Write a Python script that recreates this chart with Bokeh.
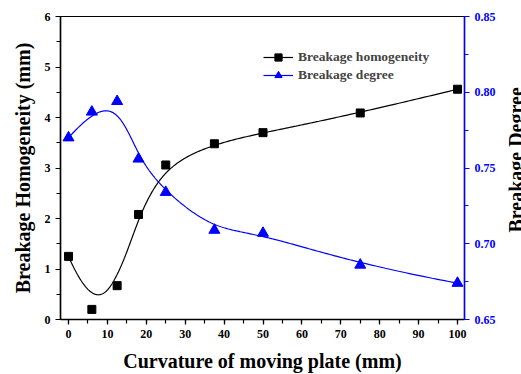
import numpy as np
from bokeh.plotting import figure
from bokeh.layouts import row
from bokeh.models import (LinearAxis, Range1d, Legend, LegendItem, FixedTicker,
                          NumeralTickFormatter, Label)
from bokeh.embed import file_html
from bokeh.resources import INLINE

curvature = [0, 6, 12.5, 18, 25, 37.5, 50, 75, 100]
homogeneity = [1.25, 0.20, 0.67, 2.08, 3.06, 3.48, 3.70, 4.09, 4.56]
degree = [0.770, 0.787, 0.794, 0.756, 0.734, 0.709, 0.707, 0.686, 0.674]

FONT = "Liberation Serif"
BLUE = "#0000ff"


def bspline(px, py, n=400, k=3):
    px = np.asarray(px, float)
    py = np.asarray(py, float)
    m = len(px)
    knots = np.array([0] * k + list(range(m - k + 1)) + [m - k] * k, float)
    ts = np.linspace(0, m - k, n)
    ts[-1] -= 1e-9

    def basis(i, d, t):
        if d == 0:
            return 1.0 if knots[i] <= t < knots[i + 1] else 0.0
        a = 0.0
        den1 = knots[i + d] - knots[i]
        if den1 > 0:
            a += (t - knots[i]) / den1 * basis(i, d - 1, t)
        den2 = knots[i + d + 1] - knots[i + 1]
        if den2 > 0:
            a += (knots[i + d + 1] - t) / den2 * basis(i + 1, d - 1, t)
        return a

    xs, ys = [], []
    for t in ts:
        b = np.array([basis(i, k, t) for i in range(m)])
        xs.append(float(b @ px))
        ys.append(float(b @ py))
    return xs, ys


p = figure(width=508, height=374, output_backend="svg", toolbar_location=None,
           x_range=Range1d(-2.06, 101.8), y_range=Range1d(0, 6),
           min_border_left=60, min_border_right=44, min_border_top=16, min_border_bottom=54)
p.extra_y_ranges = {"deg": Range1d(0.65, 0.85)}

p.grid.visible = False
p.outline_line_color = "black"
p.outline_line_width = 1.2
p.background_fill_color = "white"
p.border_fill_color = "white"


def style_axis(ax, color):
    ax.axis_line_color = color
    ax.axis_line_width = 1.5
    ax.major_tick_line_color = color
    ax.minor_tick_line_color = color
    ax.major_tick_line_width = 1.2
    ax.minor_tick_line_width = 1.2
    ax.major_tick_out = 5
    ax.major_tick_in = 0
    ax.minor_tick_out = 4
    ax.minor_tick_in = 0
    ax.major_label_text_font = FONT
    ax.major_label_text_font_style = "bold"
    ax.major_label_text_font_size = "12px"
    ax.major_label_text_color = color
    ax.axis_label_text_font = FONT
    ax.axis_label_text_font_style = "bold"
    ax.axis_label_text_font_size = "20px"
    ax.axis_label_text_color = "black"
    ax.major_label_standoff = 5


xa = p.xaxis[0]
style_axis(xa, "black")
xa.ticker = FixedTicker(ticks=list(range(0, 101, 10)), minor_ticks=list(range(0, 101, 5)))
xa.axis_label = "Curvature of moving plate (mm)"
xa.axis_label_standoff = 9

ya = p.yaxis[0]
style_axis(ya, "black")
ya.ticker = FixedTicker(ticks=list(range(0, 7)), minor_ticks=[i * 0.5 for i in range(13)])
ya.axis_label = "Breakage Homogeneity (mm)"
ya.axis_label_standoff = 8

ra = LinearAxis(y_range_name="deg")
style_axis(ra, BLUE)
ra.ticker = FixedTicker(ticks=[0.65, 0.70, 0.75, 0.80, 0.85],
                        minor_ticks=[0.65 + 0.025 * i for i in range(9)])
ra.formatter = NumeralTickFormatter(format="0.00")
p.add_layout(ra, "right")

hx, hy = bspline(curvature, homogeneity)
dx, dy = bspline(curvature, degree)

l1 = p.line(hx, hy, line_color="black", line_width=1.2)
s1 = p.scatter(curvature, homogeneity, marker="square", size=8, fill_color="black", line_color="black")
l2 = p.line(dx, dy, line_color=BLUE, line_width=1.2, y_range_name="deg")
s2 = p.scatter(curvature, degree, marker="triangle", size=11, fill_color=BLUE, line_color=BLUE,
               y_range_name="deg")

legend = Legend(items=[LegendItem(label="Breakage homogeneity", renderers=[l1, s1]),
                       LegendItem(label="Breakage degree", renderers=[l2, s2])],
                location=(203, 235), orientation="vertical")
legend.border_line_color = None
legend.background_fill_alpha = 0
legend.padding = 0
legend.margin = 0
legend.spacing = 0
legend.glyph_width = 30
legend.glyph_height = 18
legend.label_height = 18
legend.label_standoff = 5
legend.label_text_font = FONT
legend.label_text_font_style = "bold"
legend.label_text_font_size = "13.5px"
p.add_layout(legend, "center")

# narrow strip on the right carrying the (edge-clipped) right axis title
side = figure(width=13, height=374, output_backend="svg", toolbar_location=None, title=None,
              x_range=Range1d(0, 13), y_range=Range1d(0, 374),
              x_axis_type=None, y_axis_type=None,
              min_border_left=0, min_border_right=0, min_border_top=0, min_border_bottom=0)
side.grid.visible = False
side.outline_line_color = None
side.background_fill_color = "white"
side.border_fill_color = "white"
side.add_layout(Label(x=7.5, y=374 - 177, text="Breakage Degree", angle=np.pi / 2,
                      text_align="center", text_baseline="alphabetic",
                      text_font=FONT, text_font_style="bold", text_font_size="20px",
                      text_color="black"))

layout = row(p, side, spacing=0)
open("out.html", "w").write(file_html(layout, INLINE))
